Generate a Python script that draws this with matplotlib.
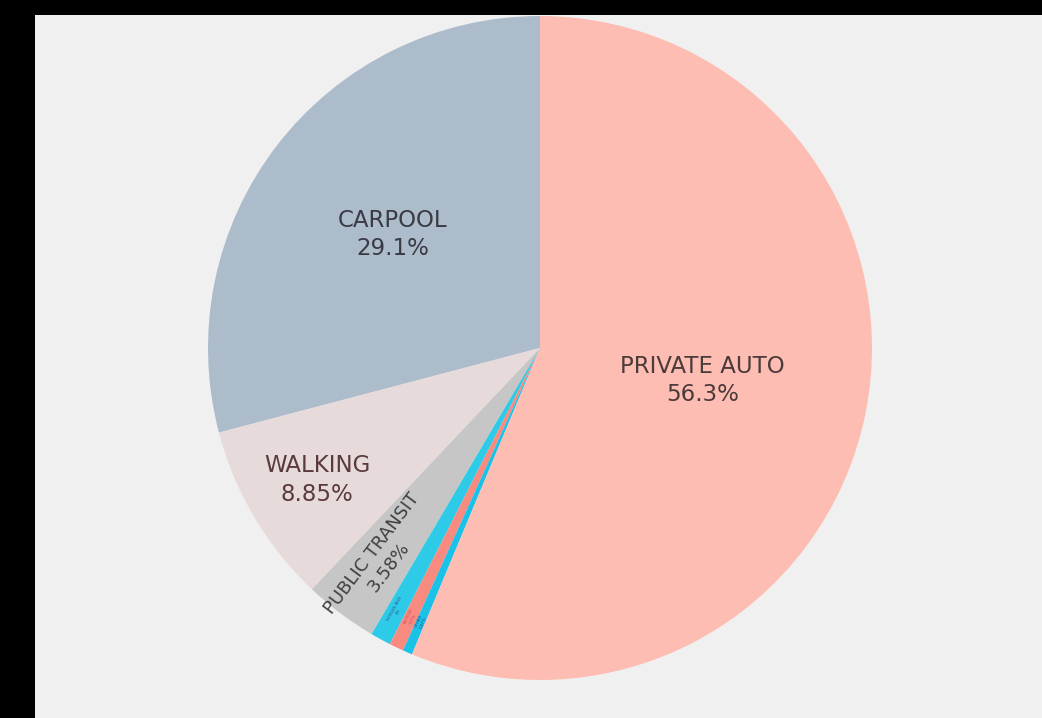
import matplotlib.pyplot as plt
from matplotlib.patches import Rectangle
import numpy as np

modes = ["CARPOOL", "WALKING", "PUBLIC TRANSIT", "SCHOOL BUS", "BICYCLE", "OTHER", "PRIVATE AUTO"]
shares = [29.1, 8.85, 3.58, 1.0, 0.7, 0.47, 56.3]
colors = ["#adbccb", "#e6dada", "#c6c6c6", "#2ecbe9", "#f88a80", "#1bc2e8", "#fdbdb3"]
text_colors = ["#3a3a44", "#5a3a3e", "#3f3f3f", "#2a4a8a", "#d04050", "#2a4a8a", "#4a3a3a"]
label_dist = [0.56, 0.78, 0.8, 0.9, 0.9, 0.9, 0.5]
label_size = [16.5, 16.5, 13, 3, 3, 3, 16.5]
rotated = [False, False, True, True, True, True, False]

W, H = 1042, 718
fig = plt.figure(figsize=(W / 100, H / 100), dpi=100, facecolor="#f0f0f0")
# dark frame strips on the left and top edges
for rect in [(0, 0, 35 / W, 1), (0, 1 - 15 / H, 1, 15 / H)]:
    fig.patches.append(Rectangle(rect[:2], rect[2], rect[3],
                                 transform=fig.transFigure, facecolor="black",
                                 edgecolor="none"))

R = 332
ax = fig.add_axes([(540 - R) / W, (H - 348 - R) / H, 2 * R / W, 2 * R / H])
ax.set_facecolor("none")

wedges, _ = ax.pie(shares, colors=colors, startangle=90, counterclock=True,
                   wedgeprops=dict(linewidth=0))

total = sum(shares)
for w, name, v, d, fs, rot, tc in zip(wedges, modes, shares, label_dist,
                                      label_size, rotated, text_colors):
    mid = (w.theta1 + w.theta2) / 2
    x = d * np.cos(np.radians(mid))
    y = d * np.sin(np.radians(mid))
    angle = mid - 180 if rot else 0
    ax.text(x, y, f"{name}\n{100 * v / total:.3g}%", ha="center", va="center",
            fontsize=fs, color=tc, rotation=angle, rotation_mode="anchor",
            linespacing=1.3)

ax.set_xlim(-1, 1)
ax.set_ylim(-1, 1)
ax.set_aspect("auto")
ax.axis("off")

fig.savefig("out.png", dpi=100, facecolor=fig.get_facecolor())
